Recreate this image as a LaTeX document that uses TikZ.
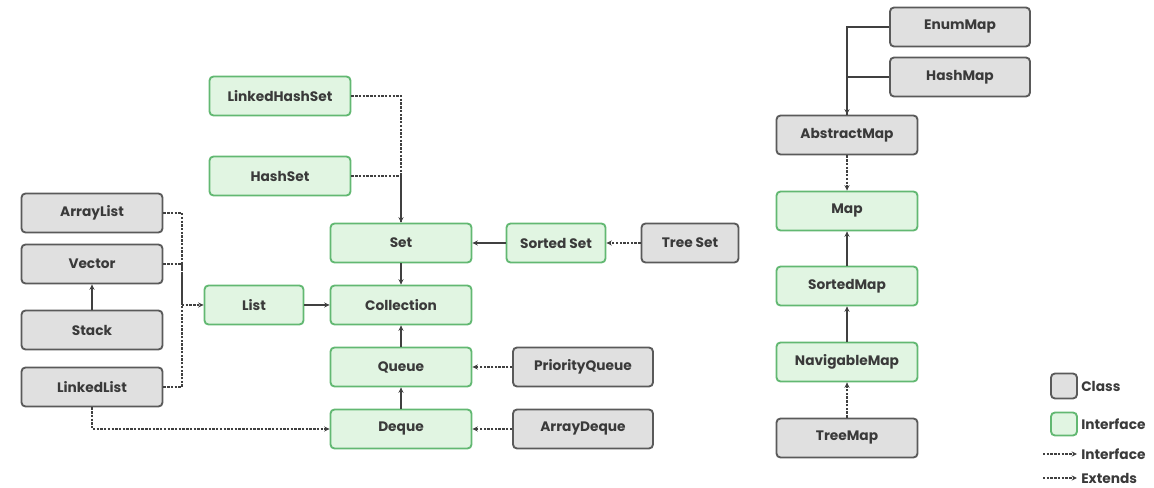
\documentclass[tikz,border=0pt]{standalone}
\usepackage{fontspec}
\setmainfont{Poppins}
\usetikzlibrary{arrows.meta}
\definecolor{clsfill}{HTML}{E0E0E0}
\definecolor{clsdraw}{HTML}{5A5A5A}
\definecolor{ifcfill}{HTML}{E1F5E2}
\definecolor{ifcdraw}{HTML}{62B872}
\definecolor{txt}{HTML}{3A3A3A}
\definecolor{lin}{HTML}{404040}
\tikzset{
  box/.style={rectangle, rounded corners=3pt, line width=1.4pt, inner sep=0pt,
    minimum height=29.25pt, font=\bfseries\fontsize{10.3}{12}\selectfont, text=txt},
  cls/.style={box, fill=clsfill, draw=clsdraw},
  ifc/.style={box, fill=ifcfill, draw=ifcdraw},
  wA/.style={minimum width=105.75pt},
  wB/.style={minimum width=74.25pt},
  solidarrow/.style={draw=lin, line width=1.2pt, -{Stealth[length=4pt,width=3.8pt]}},
  solidline/.style={draw=lin, line width=1.2pt},
  dotarrow/.style={draw=lin, line width=1.2pt, dash pattern=on 1.8pt off 1pt, -{Stealth[length=4pt,width=3.8pt]}},
  dotline/.style={draw=lin, line width=1.2pt, dash pattern=on 1.8pt off 1pt},
  legtext/.style={anchor=west, inner sep=0pt, font=\bfseries\fontsize{10.3}{12}\selectfont, text=txt},
}
\begin{document}
\begin{tikzpicture}[x=0.75pt,y=-0.75pt]
\useasboundingbox (0,0) rectangle (1154,488);
% Collection side
\node[cls,wA] (arraylist) at (92,213) {ArrayList};
\node[cls,wA] (vector) at (92,264) {Vector};
\node[cls,wA] (stack) at (92,330) {Stack};
\node[cls,wA] (linkedlist) at (92,387) {LinkedList};
\node[ifc,wB] (list) at (254,305) {List};
\node[ifc,wA] (linkedhashset) at (280,96) {LinkedHashSet};
\node[ifc,wA] (hashset) at (280,176) {HashSet};
\node[ifc,wA] (set) at (401,243) {Set};
\node[ifc,wA] (collection) at (401,305) {Collection};
\node[ifc,wA] (queue) at (401,367) {Queue};
\node[ifc,wA] (deque) at (401,429) {Deque};
\node[ifc,wB] (sortedset) at (556,243) {Sorted Set};
\node[cls,minimum width=72.75pt] (treeset) at (690,243) {Tree Set};
\node[cls,minimum width=105pt] (priorityqueue) at (583,367) {PriorityQueue};
\node[cls,minimum width=105pt] (arraydeque) at (583,429) {ArrayDeque};
% Map side
\node[cls,minimum width=105pt] (enummap) at (960,27) {EnumMap};
\node[cls,minimum width=105pt] (hashmap) at (960,77) {HashMap};
\node[cls,wA] (abstractmap) at (847,135) {AbstractMap};
\node[ifc,wA] (map) at (847,211) {Map};
\node[ifc,wA] (sortedmap) at (847,286) {SortedMap};
\node[ifc,wA] (navigablemap) at (847,362) {NavigableMap};
\node[cls,wA] (treemap) at (847,438) {TreeMap};
% Connectors: list group
\coordinate (busL) at (182,305);
\draw[dotline] (arraylist.east) -| (busL);
\draw[dotline] (vector.east) -| (busL);
\draw[dotline] (linkedlist.east) -| (busL);
\draw[dotarrow] (busL) -- (list.west);
\draw[solidarrow] (stack.north) -- (vector.south);
\draw[solidarrow] (list.east) -- (collection.west);
\draw[dotarrow] (linkedlist.south) |- (deque.west);
% set group
\draw[dotarrow] (linkedhashset.east) -| (set.north);
\draw[dotline] (hashset.east) -| (set.north);
\draw[solidarrow] (set.south) -- (collection.north);
\draw[solidarrow] (sortedset.west) -- (set.east);
\draw[dotarrow] (treeset.west) -- (sortedset.east);
% queue group
\draw[solidarrow] (queue.north) -- (collection.south);
\draw[solidarrow] (deque.north) -- (queue.south);
\draw[dotarrow] (priorityqueue.west) -- (queue.east);
\draw[dotarrow] (arraydeque.west) -- (deque.east);
% map group
\draw[solidarrow] (enummap.west) -| (abstractmap.north);
\draw[solidline] (hashmap.west) -| (abstractmap.north);
\draw[dotarrow] (abstractmap.south) -- (map.north);
\draw[solidarrow] (sortedmap.north) -- (map.south);
\draw[solidarrow] (navigablemap.north) -- (sortedmap.south);
\draw[dotarrow] (treemap.north) -- (navigablemap.south);
% legend
\node[cls, minimum width=19.5pt, minimum height=18.75pt] (legclass) at (1064,386) {};
\node[legtext] (legclasst) at (1081,386) {Class};
\node[ifc, minimum width=19.5pt, minimum height=17.25pt] (legifc) at (1064,424) {};
\node[legtext] (legifct) at (1081,424) {Interface};
\node[legtext] (legimpl) at (1081,454) {Interface};
\node[legtext] (legext) at (1081,478) {Extends};
\coordinate (li0) at (1043,454);
\coordinate (le0) at (1043,478);
\draw[dotarrow, shorten >=3pt] (li0) -- (legimpl.west);
\draw[dotarrow, shorten >=3pt] (le0) -- (legext.west);
\end{tikzpicture}
\end{document}
